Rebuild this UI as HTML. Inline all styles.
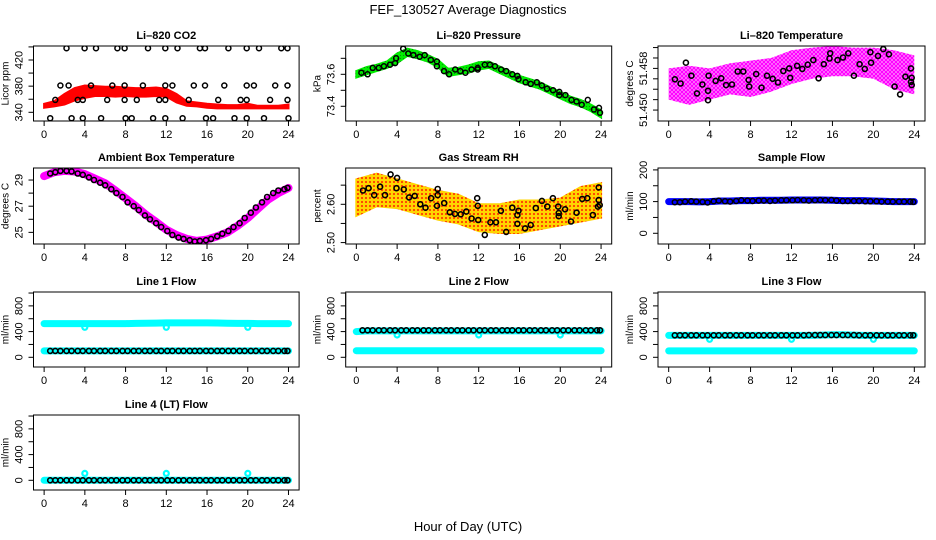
<!DOCTYPE html>
<html><head><meta charset="utf-8"><style>
html,body{margin:0;padding:0;background:#fff;}
svg{display:block;font-family:"Liberation Sans",Arial,sans-serif;}
</style></head><body>
<svg id="chart" width="936" height="540" viewBox="0 0 936 540">
<defs>
<pattern id="magPat" width="4" height="4" patternUnits="userSpaceOnUse"><rect width="4" height="4" fill="#ffb0ff"/><circle cx="2" cy="2" r="1.5" fill="none" stroke="#ff00ff" stroke-width="1.3"/></pattern>
<pattern id="rhPat" width="4" height="4" patternUnits="userSpaceOnUse"><rect width="4" height="4" fill="#ffd400"/><circle cx="2" cy="2" r="1" fill="#ff2000"/></pattern>
<pattern id="grPat" width="3" height="3" patternUnits="userSpaceOnUse"><rect width="3" height="3" fill="#00ee00"/><rect x="1" y="1" width="1" height="1" fill="#118811"/></pattern>
</defs>
<text x="468" y="14" text-anchor="middle" font-size="13">FEF_130527  Average Diagnostics</text>
<text x="468" y="531" text-anchor="middle" font-size="13">Hour of Day (UTC)</text>
</svg>
<script>
// ---------- data ----------
const hours=[0,1,2,3,4,5,6,7,8,9,10,11,12,13,14,15,16,17,18,19,20,21,22,23,24];
const evenHours=[0,2,4,6,8,10,12,14,16,18,20,22,24];
const xTicks=[0,4,8,12,16,20,24];

const co2Lo=[347,349,352,358,362,365,365,364,365,364,364,365,364,355,350,349,347,346,346,346,346,346,346,346,346];
const co2Hi=[353,357,368,377,381,380,379,379,378,377,377,378,376,368,357,355,353,352,351,351,353,350,350,350,352];
const co2BlackT=[2.2,3.98,5.1,7.2,7.9,10.2,11.9,13.1,15.3,15.8,18.1,19.9,21.1,23.3,23.9,
 1.6,2.4,4.6,6.7,7.9,9.7,11.9,12.6,14.7,15.8,17.7,19.9,20.6,22.7,23.9,
 1.1,3.3,3.8,6.2,7.9,9.1,11.3,11.9,14.2,17.1,19.3,19.9,22.2,23.9,
 0.6,2.7,3.8,5.6,8.0,8.6,10.7,11.9,13.6,15.9,16.6,18.7,19.9,21.6,24.0];
const co2BlackV=[438,438,438,438,438,438,438,438,438,438,438,438,438,438,438,
 381,381,381,381,381,381,381,381,381,381,381,381,381,381,381,
 359,359,359,359,359,359,359,359,359,359,359,359,359,359,
 331,331,331,331,331,331,331,331,331,331,331,331,331,331,331];

const presLo=[73.58,73.60,73.62,73.64,73.67,73.715,73.70,73.68,73.645,73.59,73.60,73.61,73.63,73.64,73.61,73.58,73.55,73.53,73.51,73.48,73.45,73.42,73.40,73.37,73.33];
const presHi=[73.62,73.645,73.66,73.68,73.73,73.76,73.745,73.72,73.69,73.635,73.64,73.655,73.675,73.68,73.65,73.62,73.59,73.57,73.55,73.52,73.49,73.46,73.44,73.41,73.375];
const presBlackT=[0.5,1.1,1.6,2.2,2.7,3.3,3.8,3.9,4.6,5.1,5.6,6.2,6.7,7.3,7.9,7.9,8.6,9.1,9.7,10.2,10.7,11.3,11.9,11.9,12.6,13.1,13.6,14.2,14.7,15.3,15.8,15.9,16.6,17.1,17.7,18.2,18.7,19.3,19.9,19.9,20.5,21.1,21.6,22.1,22.7,23.3,23.8,23.9];
const presBlackV=[73.61,73.60,73.64,73.64,73.65,73.66,73.67,73.70,73.76,73.73,73.72,73.71,73.72,73.69,73.68,73.65,73.62,73.60,73.63,73.62,73.61,73.63,73.64,73.63,73.66,73.66,73.65,73.63,73.62,73.60,73.59,73.57,73.55,73.54,73.55,73.53,73.51,73.50,73.49,73.47,73.47,73.44,73.43,73.41,73.44,73.38,73.39,73.36];

const tempLo=[51.4520,51.4510,51.4520,51.4530,51.4525,51.4535,51.4550,51.4560,51.4565,51.4565,51.4560,51.4540,51.4530];
const tempHi=[51.4580,51.4585,51.4580,51.4590,51.4595,51.4600,51.4615,51.4620,51.4623,51.4620,51.4620,51.4615,51.4605];
const tempBlackT=[0.61,1.16,1.68,2.22,2.77,3.29,3.84,3.84,3.90,4.58,5.13,5.61,6.19,6.74,7.29,7.81,7.87,8.55,9.07,9.61,10.16,10.68,11.2,11.78,11.87,12.55,13.06,13.58,14.13,14.65,15.16,15.71,15.78,16.49,17.03,17.55,18.1,18.65,19.16,19.71,19.78,20.45,20.97,21.52,22.07,22.61,23.13,23.68,23.74,23.68,23.74];
const tempBlackV=[51.4559,51.4551,51.4591,51.4566,51.4532,51.4549,51.4537,51.4519,51.4566,51.4556,51.4561,51.4548,51.4549,51.4574,51.4574,51.4558,51.4545,51.4569,51.4543,51.4566,51.4560,51.4553,51.4575,51.4580,51.4562,51.4585,51.4579,51.4587,51.4596,51.4561,51.4588,51.4599,51.4609,51.4596,51.4601,51.4609,51.4566,51.4588,51.4579,51.4611,51.4591,51.4604,51.4617,51.4607,51.4545,51.4530,51.4564,51.4580,51.4562,51.4554,51.4548];

const ambBand=[29.3,29.6,29.7,29.65,29.45,29.1,28.75,28.2,27.6,27.0,26.35,25.8,25.2,24.8,24.5,24.35,24.45,24.7,25.0,25.5,26.1,26.8,27.5,28.0,28.4];
const blackT=[0.6,1.1,1.6,2.2,2.7,3.3,3.8,4.4,4.9,5.5,6.0,6.6,7.1,7.7,8.2,8.8,9.3,9.9,10.4,11.0,11.5,12.1,12.6,13.2,13.7,14.3,14.8,15.3,15.9,16.4,17.0,17.5,18.1,18.6,19.2,19.7,20.3,20.8,21.4,21.9,22.5,23.0,23.6,23.9];
const ambBlackV=[29.5,29.6,29.7,29.7,29.65,29.5,29.4,29.2,29.0,28.8,28.6,28.3,28.0,27.7,27.3,27.0,26.7,26.3,26.0,25.7,25.4,25.1,24.8,24.6,24.5,24.4,24.3,24.35,24.4,24.5,24.7,24.9,25.1,25.4,25.7,26.1,26.5,26.9,27.3,27.7,28.0,28.2,28.3,28.4];

const rhLo=[2.57,2.595,2.59,2.575,2.56,2.55,2.53,2.525,2.525,2.535,2.545,2.555,2.565];
const rhHi=[2.665,2.68,2.665,2.65,2.635,2.625,2.60,2.60,2.61,2.61,2.615,2.645,2.655];
const rhBlackT=[0.65,1.2,1.75,2.33,2.81,3.36,3.94,4.0,4.65,5.17,5.72,6.27,6.78,7.33,7.98,7.98,7.91,8.62,9.17,9.68,10.23,10.78,11.3,11.85,11.91,11.95,12.6,13.15,13.7,14.18,14.7,15.3,15.8,15.9,15.8,16.55,17.1,17.6,18.2,18.73,19.28,19.8,19.85,19.85,20.47,21.05,21.6,22.15,22.65,23.2,23.77,23.77,23.87,23.7];
const rhBlackV=[2.636,2.642,2.624,2.646,2.624,2.678,2.642,2.669,2.639,2.618,2.622,2.600,2.591,2.616,2.640,2.624,2.596,2.603,2.579,2.575,2.574,2.581,2.563,2.616,2.596,2.559,2.520,2.553,2.553,2.583,2.528,2.591,2.572,2.583,2.549,2.537,2.546,2.590,2.609,2.594,2.616,2.594,2.577,2.569,2.587,2.555,2.578,2.614,2.616,2.572,2.644,2.611,2.598,2.594];

const sampBlue=[100,100,100,99,100,102,102,103,103,104,104,104,105,105,105,105,104,103,103,103,102,101,100,100,100];
const sampBlackV=[98,98,100,101,100,99,97,101,103,101,100,102,104,103,102,103,103,102,103,104,104,104,105,104,103,104,105,104,105,103,102,102,102,102,101,101,101,100,100,100,100,100,100,99];

const l1CyanHi=[525,525,525,525,525,525,525,525,525,528,530,532,535,535,535,535,535,533,530,528,527,525,525,525,525];
const l1CyanLo=[100,100,100,100,100,100,100,100,100,100,100,100,100,100,100,100,100,100,100,100,100,100,100,100,100];
const l1BlackV=[100,100,100,100,100,100,100,100,100,100,100,100,100,100,100,100,100,100,100,100,100,100,100,100,100,100,100,100,100,100,100,100,100,100,100,100,100,100,100,100,100,100,100,100];
const l2CyanHi=[400,410,410,410,410,410,410,410,410,410,410,410,410,410,410,410,410,410,410,410,410,410,410,410,410];
const l2CyanLo=[103,103,103,103,103,103,103,103,103,103,103,103,103,103,103,103,103,103,103,103,103,103,103,103,103];
const l2BlackV=[420,420,420,420,420,420,420,420,420,420,420,420,420,420,420,420,420,420,420,420,420,420,420,420,420,420,420,420,420,420,420,420,420,420,420,420,420,420,420,420,420,420,420,420];
const l3CyanHi=[340,340,340,340,340,340,340,340,340,340,340,340,340,340,340,345,350,350,345,340,340,340,340,340,340];
const l3CyanLo=[100,100,100,100,100,100,100,100,100,100,100,100,100,100,100,100,100,100,100,100,100,100,100,100,100];
const l3BlackV=[342,342,342,342,342,342,342,342,342,342,342,342,342,342,342,342,342,342,342,342,342,342,342,342,345,345,345,345,345,345,345,345,345,342,342,342,342,342,342,342,342,342,342,342];
const l4Cyan=[0,0,0,0,0,0,0,0,0,0,0,0,0,0,0,0,0,0,0,0,0,0,0,0,0];
const l4BlackV=[0,0,0,0,0,0,0,0,0,0,0,0,0,0,0,0,0,0,0,0,0,0,0,0,0,0,0,0,0,0,0,0,0,0,0,0,0,0,0,0,0,0,0,0];
const dipT=[4,12,20];
const l1DipV=[467,467,467];
const l2DipV=[347,347,347];
const l3DipV=[280,280,280];
const l4DipV=[107,107,107];

// ---------- layout ----------
const NS="http://www.w3.org/2000/svg";
const svg=document.getElementById('chart');
const colL=[33.5,345.7,658], colR=[299.1,611.7,925];
const rowT=[46,168,292,415], rowB=[121,244,367,490];
function mk(tag,attrs,parent){const e=document.createElementNS(NS,tag);for(const k in attrs)e.setAttribute(k,attrs[k]);(parent||svg).appendChild(e);return e;}

function panel(r,c,o){
  const L=colL[c],R=colR[c],T=rowT[r],B=rowB[r];
  const g=mk('g',{});
  
  
  const xs=t=>L+(R-L)*(0.04+0.92*t/24);
  const ys=v=>B-(B-T)*(v-o.ymin)/(o.ymax-o.ymin);
  const clip='clip'+r+c;
  const cp=mk('clipPath',{id:clip},g);mk('rect',{x:L,y:T,width:R-L,height:B-T},cp);
  const plot=mk('g',{'clip-path':'url(#'+clip+')'},g);
  
  
  return {g,plot,xs,ys,L,R,T,B};
}
function band(p,t,lo,hi,fill,name){
  let d='M'+t.map((tt,i)=>p.xs(tt).toFixed(1)+','+p.ys(hi[i]).toFixed(1)).join('L');
  for(let i=t.length-1;i>=0;i--)d+='L'+p.xs(t[i]).toFixed(1)+','+p.ys(lo[i]).toFixed(1);
  const e=mk('path',{d:d+'Z',fill:fill,stroke:fill==='url(#magPat)'?'none':fill,'stroke-width':2},p.plot);
  
  
}
function thick(p,t,v,color,w,name){
  const e=mk('polyline',{points:t.map((tt,i)=>p.xs(tt).toFixed(1)+','+p.ys(v[i]).toFixed(1)).join(' '),fill:'none',stroke:color,'stroke-width':w,'stroke-linecap':'round','stroke-linejoin':'round'},p.plot);
  
  
}
function pts(p,t,v,color,sw,name){
  const gg=mk('g',{},p.plot);
  
  
  t.forEach((tt,i)=>{
    const c=mk('circle',{cx:p.xs(tt).toFixed(1),cy:p.ys(v[i]).toFixed(1),r:2.5,fill:'none',stroke:color,'stroke-width':sw},gg);
    
    
  });
}
function axes(p,o){
  const {g,xs,ys,L,R,T,B}=p;
  const box=mk('rect',{x:L,y:T,width:R-L,height:B-T,fill:'none',stroke:'#000','stroke-width':1},g);
  
  
  const t=mk('text',{x:(L+R)/2,y:T-7,'text-anchor':'middle','font-size':11,'font-weight':'bold'},g);t.textContent=o.title;
  
  
  const xa=mk('g',{},g);
  
  
  mk('line',{x1:xs(0),x2:xs(24),y1:B,y2:B,stroke:'#000'},xa);
  xTicks.forEach(v=>{mk('line',{x1:xs(v),x2:xs(v),y1:B,y2:B+5,stroke:'#000'},xa);
    if(o.xlab){const tx=mk('text',{x:xs(v),y:B+17,'text-anchor':'middle','font-size':11},xa);tx.textContent=v;
      
      }});
  const ya=mk('g',{},g);
  
  
  mk('line',{x1:L,x2:L,y1:ys(o.ticks[0]),y2:ys(o.ticks[o.ticks.length-1]),stroke:'#000'},ya);
  o.ticks.forEach(v=>mk('line',{x1:L-5,x2:L,y1:ys(v),y2:ys(v),stroke:'#000'},ya));
  o.labels.forEach((lab,i)=>{const y=ys(o.labelVals[i]);const tx=mk('text',{x:L-11,y:y,'text-anchor':'middle','font-size':11,transform:'rotate(-90 '+(L-11)+' '+y+')'},ya);tx.textContent=lab;
    
    });
  const ym=(T+B)/2;const yt=mk('text',{x:L-25,y:ym,'text-anchor':'middle','font-size':10,transform:'rotate(-90 '+(L-25)+' '+ym+')'},ya);yt.textContent=o.ytitle;
  
  
}
const flowTicks=[0,200,400,600,800,1000], flowLabV=[0,400,800], flowLab=['0','400','800'];

// Panel 1 CO2
let o={name:'co2-panel',title:'Li\u2013820 CO2',ytitle:'Licor ppm',ymin:326.7,ymax:441.4,ticks:[340,360,380,400,420,440],labelVals:[340,380,420],labels:['340','380','420'],xlab:true};
let p=panel(0,0,o);band(p,hours,co2Lo,co2Hi,'#ff0000','co2-band');pts(p,co2BlackT,co2BlackV,'#000',1.5,'co2-black-series');axes(p,o);
// Panel 2 pressure
o={name:'pressure-panel',title:'Li\u2013820 Pressure',ytitle:'kPa',ymin:73.308,ymax:73.777,ticks:[73.4,73.5,73.6,73.7],labelVals:[73.4,73.6],labels:['73.4','73.6'],xlab:true};
p=panel(0,1,o);band(p,hours,presLo,presHi,'url(#grPat)','pressure-band');pts(p,presBlackT,presBlackV,'#000',1.5,'pressure-black-series');axes(p,o);
// Panel 3 temperature
o={name:'li820-temp-panel',title:'Li\u2013820 Temperature',ytitle:'degrees C',ymin:51.4479,ymax:51.4623,ticks:[51.450,51.452,51.454,51.456,51.458,51.460,51.462],labelVals:[51.450,51.458],labels:['51.450','51.458'],xlab:true};
p=panel(0,2,o);band(p,evenHours,tempLo,tempHi,'url(#magPat)','temp-band');pts(p,tempBlackT,tempBlackV,'#000',1.6,'temp-black-series');axes(p,o);
// Panel 4 ambient
o={name:'ambient-panel',title:'Ambient Box Temperature',ytitle:'degrees C',ymin:24.11,ymax:29.92,ticks:[25,26,27,28,29],labelVals:[25,27,29],labels:['25','27','29'],xlab:true};
p=panel(1,0,o);thick(p,hours,ambBand,'#ff00ff',8,'ambient-band');pts(p,blackT,ambBlackV,'#000',1.6,'ambient-black-series');axes(p,o);
// Panel 5 RH
o={name:'rh-panel',title:'Gas Stream RH',ytitle:'percent',ymin:2.4963,ymax:2.6948,ticks:[2.50,2.55,2.60,2.65],labelVals:[2.50,2.60],labels:['2.50','2.60'],xlab:true};
p=panel(1,1,o);band(p,evenHours,rhLo,rhHi,'url(#rhPat)','rh-band');pts(p,rhBlackT,rhBlackV,'#000',1.6,'rh-black-series');axes(p,o);
// Panel 6 sample flow
o={name:'sample-flow-panel',title:'Sample Flow',ytitle:'ml/min',ymin:-33.8,ymax:206,ticks:[0,50,100,150,200],labelVals:[0,100,200],labels:['0','100','200'],xlab:true};
p=panel(1,2,o);thick(p,hours,sampBlue,'#0000ff',7,'sample-flow-band');pts(p,blackT,sampBlackV,'#000',1.5,'sample-flow-black-series');axes(p,o);
// Flow panels
const flows=[
 {r:2,c:0,name:'line1-flow-panel',title:'Line 1 Flow',hi:l1CyanHi,lo:l1CyanLo,bl:l1BlackV,dip:l1DipV},
 {r:2,c:1,name:'line2-flow-panel',title:'Line 2 Flow',hi:l2CyanHi,lo:l2CyanLo,bl:l2BlackV,dip:l2DipV},
 {r:2,c:2,name:'line3-flow-panel',title:'Line 3 Flow',hi:l3CyanHi,lo:l3CyanLo,bl:l3BlackV,dip:l3DipV},
 {r:3,c:0,name:'line4-flow-panel',title:'Line 4 (LT) Flow',hi:l4Cyan,lo:null,bl:l4BlackV,dip:l4DipV}];
flows.forEach(f=>{
  const oo={name:f.name,title:f.title,ytitle:'ml/min',ymin:-151,ymax:1016,ticks:flowTicks,labelVals:flowLabV,labels:flowLab,xlab:true};
  const pp=panel(f.r,f.c,oo);
  thick(pp,hours,f.hi,'#00ffff',7,f.name+'-cyan-upper');
  if(f.lo)thick(pp,hours,f.lo,'#00ffff',7,f.name+'-cyan-lower');
  pts(pp,dipT,f.dip,'#00ffff',2.2,f.name+'-cyan-dips');
  pts(pp,blackT,f.bl,'#000',1.6,f.name+'-black-series');
  axes(pp,oo);
});
</script>
</body></html>
